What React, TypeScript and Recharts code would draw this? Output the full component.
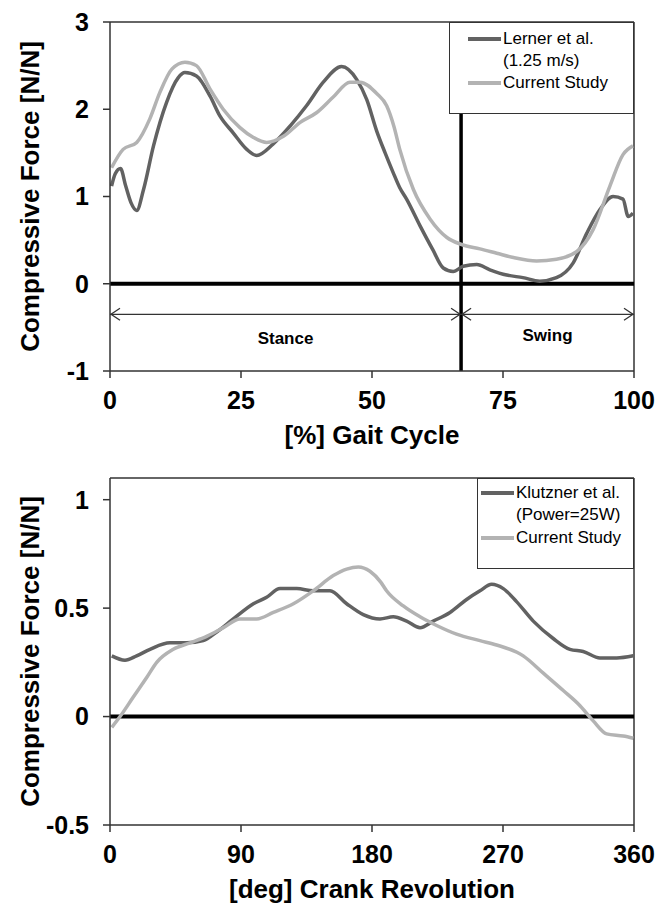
import React from "react";
import { LineChart, Line, XAxis, YAxis, ReferenceLine, Legend } from "recharts";

// ---- top chart: gait ----
const gaitTicks = [0, 25, 50, 75, 100];
const gaitForceTicks = [-1, 0, 1, 2, 3];
const stanceEnd = 67;
const arrowLevel = -0.35;

const lernerPct = [
  0.3, 1.0, 2.0, 3.0, 4.0, 5.1, 6.4, 8.3, 10.8, 13.0, 14.3, 16.5, 19.1, 21.0,
  23.5, 26.1, 28.0, 31.1, 34.4, 37.5, 40.7, 44.2, 47.1, 49.0, 50.9, 52.5, 54.0,
  55.3, 56.6, 59.2, 61.6, 63.6, 65.5, 67.4, 70.0, 72.5, 75.7, 78.8, 82.0, 85.2,
  88.4, 91.0, 93.5, 96.0, 97.9, 98.9, 99.8,
];
const lernerForce = [
  1.12, 1.26, 1.32, 1.12, 0.93, 0.84, 1.08, 1.58, 2.08, 2.36, 2.42, 2.38, 2.15,
  1.92, 1.73, 1.54, 1.47, 1.6, 1.81, 2.04, 2.31, 2.49, 2.34, 2.11, 1.75, 1.5,
  1.28, 1.1, 0.97, 0.66, 0.39, 0.18, 0.14, 0.2, 0.22, 0.16, 0.1, 0.07, 0.03,
  0.07, 0.24, 0.58, 0.85, 1.0, 0.97, 0.77, 0.81,
];

const gaitStudyPct = [
  0.3, 2.5, 5.1, 7.6, 9.5, 11.8, 14.3, 16.5, 19.1, 21.6, 24.8, 27.3, 29.9, 33.1,
  36.3, 39.4, 42.6, 45.8, 47.7, 50.9, 52.8, 54.2, 55.3, 57.9, 61.1, 64.3, 67.1,
  70.6, 73.8, 77.0, 81.4, 85.2, 89.1, 92.2, 95.4, 97.9, 99.8,
];
const gaitStudyForce = [
  1.33, 1.54, 1.62, 1.89, 2.19, 2.46, 2.54, 2.5, 2.23, 2.0, 1.79, 1.68, 1.62,
  1.69, 1.85, 1.96, 2.14, 2.31, 2.31, 2.18, 2.04, 1.8, 1.54, 1.08, 0.74, 0.53,
  0.45, 0.4, 0.35, 0.3, 0.26, 0.28, 0.37, 0.62, 1.12, 1.48, 1.58,
];

// ---- bottom chart: cycling ----
const crankTicks = [0, 90, 180, 270, 360];
const crankForceTicks = [-0.5, 0, 0.5, 1];

const klutznerDeg = [
  1.2, 10.3, 18.3, 27.5, 41.2, 52.7, 64.1, 73.3, 84.7, 98.5, 107.6, 116.8,
  128.3, 139.7, 151.1, 162.6, 174, 185.5, 194.6, 203.8, 213, 222.1, 233.6, 245,
  254.2, 262.2, 270.2, 279.3, 290.8, 304.5, 316, 325.1, 336.6, 348.1, 359.5,
];
const klutznerForce = [
  0.28, 0.26, 0.28, 0.31, 0.34, 0.34, 0.35, 0.39, 0.45, 0.52, 0.55, 0.59, 0.59,
  0.58, 0.58, 0.52, 0.47, 0.45, 0.46, 0.44, 0.41, 0.44, 0.48, 0.54, 0.58, 0.61,
  0.59, 0.53, 0.44, 0.36, 0.31, 0.3, 0.27, 0.27, 0.28,
];

const crankStudyDeg = [
  1.2, 6.9, 16, 25.2, 32.1, 43.5, 55, 66.4, 77.9, 89.3, 100.8, 112.2, 126,
  139.7, 153.4, 162.6, 170.6, 178.6, 186, 190, 201.5, 213, 224.4, 238.1, 254.2,
  265.6, 283.9, 297.7, 311.4, 322.9, 332, 341.2, 352.6, 359.5,
];
const crankStudyForce = [
  -0.05, 0.0, 0.09, 0.18, 0.25, 0.31, 0.34, 0.37, 0.41, 0.45, 0.45, 0.48, 0.52,
  0.58, 0.65, 0.68, 0.69, 0.67, 0.62, 0.58, 0.51, 0.46, 0.42, 0.38, 0.35, 0.33,
  0.28, 0.2, 0.12, 0.05, -0.02, -0.08, -0.09, -0.1,
];

const DARK = "#626262";
const LIGHT = "#b3b3b3";
const AXIS = "#333";
const FONT = "'Liberation Sans', Arial, sans-serif";

const toPoints = (xs: number[], ys: number[]) => xs.map((x, i) => ({ x, y: ys[i] }));

const tickStyle = { fontSize: 25, fontWeight: 700, fill: "#000" };
const titleStyle = { fontSize: 26, fontWeight: 700, fill: "#000" };

function DoubleArrow(props: any) {
  const { x1, y1, x2, y2 } = props;
  const h = 10;
  const w = 6;
  return (
    <g stroke="#333" strokeWidth={1.3} fill="none">
      <line x1={x1} y1={y1} x2={x2} y2={y2} />
      <path d={`M${x1 + h},${y1 - w} L${x1 + 1},${y1} L${x1 + h},${y1 + w}`} />
      <path d={`M${x2 - h},${y2 - w} L${x2 - 1},${y2} L${x2 - h},${y2 + w}`} />
    </g>
  );
}

type LegendRow = { text: string; color?: string };

function makeLegend(rows: LegendRow[], lineLeft: number, lineTop: number, rowH: number) {
  return () => (
    <div
      style={{
        width: "100%",
        height: "100%",
        boxSizing: "border-box",
        border: "1.5px solid #333",
        background: "#fff",
        position: "relative",
        fontFamily: FONT,
        fontSize: 17,
        color: "#000",
      }}
    >
      {rows.map((r, i) => (
        <div
          key={i}
          style={{
            position: "absolute",
            left: lineLeft,
            top: lineTop + i * rowH - rowH / 2,
            height: rowH,
            lineHeight: `${rowH}px`,
            whiteSpace: "nowrap",
            display: "flex",
            alignItems: "center",
          }}
        >
          <span
            style={{
              display: "inline-block",
              width: 33,
              height: 3.5,
              marginRight: 2,
              background: r.color ?? "transparent",
            }}
          />
          {r.text}
        </div>
      ))}
    </div>
  );
}

function GaitChart() {
  return (
    <LineChart width={658} height={455} margin={{ top: 22, right: 24, bottom: 0, left: 0 }}>
      <XAxis
        type="number"
        dataKey="x"
        domain={[0, 100]}
        ticks={gaitTicks}
        allowDataOverflow
        height={84}
        tick={tickStyle}
        tickSize={7}
        tickMargin={13}
        axisLine={{ stroke: AXIS, strokeWidth: 1.5 }}
        tickLine={{ stroke: AXIS, strokeWidth: 1.5 }}
        label={{ value: "[%] Gait Cycle", position: "insideTop", offset: 55, ...titleStyle }}
      />
      <YAxis
        type="number"
        domain={[-1, 3]}
        ticks={gaitForceTicks}
        allowDataOverflow
        width={110}
        tick={tickStyle}
        tickSize={7}
        tickMargin={14}
        axisLine={{ stroke: AXIS, strokeWidth: 1.5 }}
        tickLine={{ stroke: AXIS, strokeWidth: 1.5 }}
        label={{
          value: "Compressive Force [N/N]",
          angle: -90,
          position: "insideLeft",
          offset: 30,
          style: { textAnchor: "middle" },
          ...titleStyle,
        }}
      />
      <ReferenceLine y={3} stroke={AXIS} strokeWidth={1.5} />
      <ReferenceLine x={100} stroke={AXIS} strokeWidth={1.5} />
      <ReferenceLine y={0} stroke="#000" strokeWidth={4} />
      <ReferenceLine x={stanceEnd} stroke="#000" strokeWidth={3.5} />
      <ReferenceLine
        segment={[{ x: 0, y: arrowLevel }, { x: stanceEnd, y: arrowLevel }]}
        shape={DoubleArrow}
        label={{ value: "Stance", position: "bottom", offset: 18, fontSize: 17, fontWeight: 700, fill: "#000" }}
      />
      <ReferenceLine
        segment={[{ x: stanceEnd, y: arrowLevel }, { x: 100, y: arrowLevel }]}
        shape={DoubleArrow}
        label={{ value: "Swing", position: "bottom", offset: 15, fontSize: 17, fontWeight: 700, fill: "#000" }}
      />
      <Line
        data={toPoints(lernerPct, lernerForce)}
        dataKey="y"
        name="Lerner et al. (1.25 m/s)"
        type="monotone"
        stroke={DARK}
        strokeWidth={3.5}
        dot={false}
        isAnimationActive={false}
      />
      <Line
        data={toPoints(gaitStudyPct, gaitStudyForce)}
        dataKey="y"
        name="Current Study"
        type="monotone"
        stroke={LIGHT}
        strokeWidth={3.5}
        dot={false}
        isAnimationActive={false}
      />
      <Legend
        layout="vertical"
        align="center"
        verticalAlign="middle"
        wrapperStyle={{ position: "absolute", left: 449, top: 22, width: 185, height: 92 }}
        content={makeLegend(
          [
            { text: "Lerner et al.", color: DARK },
            { text: "(1.25 m/s)" },
            { text: "Current Study", color: LIGHT },
          ],
          18,
          16,
          22
        )}
      />
    </LineChart>
  );
}

function CrankChart() {
  return (
    <LineChart width={658} height={454} margin={{ top: 23, right: 24, bottom: 0, left: 0 }}>
      <XAxis
        type="number"
        dataKey="x"
        domain={[0, 360]}
        ticks={crankTicks}
        allowDataOverflow
        height={84}
        tick={tickStyle}
        tickSize={7}
        tickMargin={13}
        axisLine={{ stroke: AXIS, strokeWidth: 1.5 }}
        tickLine={{ stroke: AXIS, strokeWidth: 1.5 }}
        label={{ value: "[deg] Crank Revolution", position: "insideTop", offset: 55, ...titleStyle }}
      />
      <YAxis
        type="number"
        domain={[-0.5, 1.1]}
        ticks={crankForceTicks}
        allowDataOverflow
        width={110}
        tick={tickStyle}
        tickSize={7}
        tickMargin={14}
        axisLine={{ stroke: AXIS, strokeWidth: 1.5 }}
        tickLine={{ stroke: AXIS, strokeWidth: 1.5 }}
        label={{
          value: "Compressive Force [N/N]",
          angle: -90,
          position: "insideLeft",
          offset: 30,
          style: { textAnchor: "middle" },
          ...titleStyle,
        }}
      />
      <ReferenceLine y={1.1} stroke={AXIS} strokeWidth={1.5} />
      <ReferenceLine x={360} stroke={AXIS} strokeWidth={1.5} />
      <ReferenceLine y={0} stroke="#000" strokeWidth={4} />
      <Line
        data={toPoints(klutznerDeg, klutznerForce)}
        dataKey="y"
        name="Klutzner et al. (Power=25W)"
        type="monotone"
        stroke={DARK}
        strokeWidth={3.5}
        dot={false}
        isAnimationActive={false}
      />
      <Line
        data={toPoints(crankStudyDeg, crankStudyForce)}
        dataKey="y"
        name="Current Study"
        type="monotone"
        stroke={LIGHT}
        strokeWidth={3.5}
        dot={false}
        isAnimationActive={false}
      />
      <Legend
        layout="vertical"
        align="center"
        verticalAlign="middle"
        wrapperStyle={{ position: "absolute", left: 477, top: 23, width: 157, height: 91 }}
        content={makeLegend(
          [
            { text: "Klutzner et al.", color: DARK },
            { text: "(Power=25W)" },
            { text: "Current Study", color: LIGHT },
          ],
          3,
          14,
          22.5
        )}
      />
    </LineChart>
  );
}

export default function App() {
  return (
    <div
      style={{
        position: "absolute",
        left: 0,
        top: 0,
        width: 658,
        height: 909,
        background: "#fff",
        fontFamily: FONT,
      }}
    >
      <div style={{ position: "absolute", left: 0, top: 0 }}>
        <GaitChart />
      </div>
      <div style={{ position: "absolute", left: 0, top: 455 }}>
        <CrankChart />
      </div>
    </div>
  );
}
